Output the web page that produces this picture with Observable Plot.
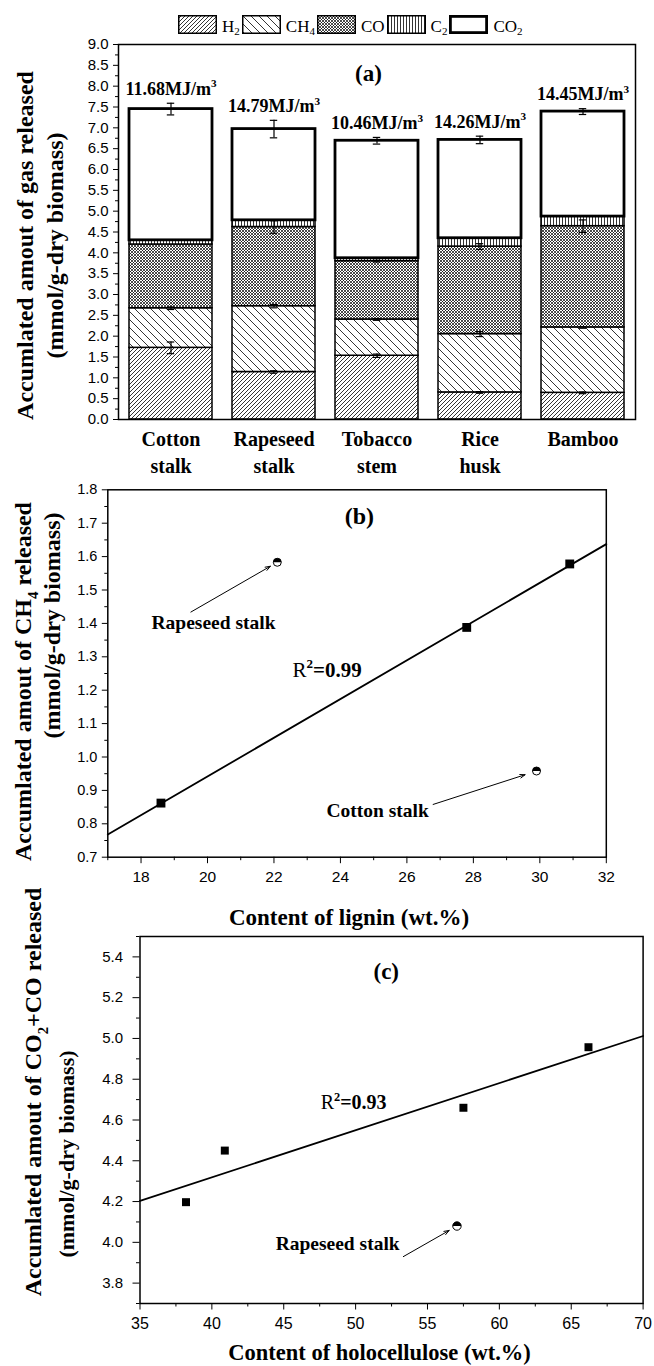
<!DOCTYPE html>
<html><head><meta charset="utf-8">
<script src="https://cdn.jsdelivr.net/npm/d3@7"></script>
<script src="https://cdn.jsdelivr.net/npm/@observablehq/plot@0.6"></script>
<style>
html,body{margin:0;padding:0;background:#fff;}
#page{position:relative;width:654px;height:1366px;overflow:hidden;background:#fff;}
.panel{position:absolute;left:0;}
.panel svg{overflow:visible;}
#legend{position:absolute;top:15px;left:178px;display:flex;align-items:flex-start;font-family:'Liberation Serif','Times New Roman',serif;font-size:17px;line-height:19px;color:#000;}
#legend .item{display:flex;align-items:flex-start;margin-right:2px;}
#legend .item span{padding-left:5px;padding-top:2px;white-space:nowrap;}
#legend sub{font-size:0.65em;vertical-align:-0.3em;line-height:0;}
</style></head>
<body>
<svg width="0" height="0" style="position:absolute">
  <defs>
    <pattern id="pat-H2" patternUnits="userSpaceOnUse" width="4" height="4">
      <rect width="4" height="4" fill="#fff"/>
      <path d="M-1,1 L1,-1 M0,4 L4,0 M3,5 L5,3" stroke="#000" stroke-width="0.8"/>
    </pattern>
    <pattern id="pat-CH4" patternUnits="userSpaceOnUse" width="8" height="8">
      <rect width="8" height="8" fill="#fff"/>
      <path d="M-1,7 L1,9 M0,0 L8,8 M7,-1 L9,1" stroke="#000" stroke-width="0.8"/>
    </pattern>
    <pattern id="pat-CO" patternUnits="userSpaceOnUse" width="3" height="3">
      <rect width="3" height="3" fill="#fff"/>
      <path d="M0,0 L3,3 M3,0 L0,3" stroke="#000" stroke-width="0.7"/>
    </pattern>
    <pattern id="pat-C2" patternUnits="userSpaceOnUse" width="3" height="3">
      <rect width="3" height="3" fill="#fff"/>
      <path d="M1.5,0 L1.5,3" stroke="#000" stroke-width="0.8"/>
    </pattern>
    <pattern id="pat-CO2" patternUnits="userSpaceOnUse" width="4" height="4">
      <rect width="4" height="4" fill="#fff"/>
    </pattern>
  </defs>
</svg>
<div id="page">
  <div id="legend"></div>
  <div class="panel" id="pa" style="top:30px"></div>
  <div class="panel" id="pb" style="top:475px"></div>
  <div class="panel" id="pc" style="top:925px"></div>
</div>
<script>
// ---------------- DATA ----------------
// (a) stacked gas yields, mmol/g-dry biomass
const samples = ["Cotton stalk", "Rapeseed stalk", "Tobacco stem", "Rice husk", "Bamboo"];
const sampleTickLabels = ["Cotton\nstalk", "Rapeseed\nstalk", "Tobacco\nstem", "Rice\nhusk", "Bamboo"];
const gases = ["H2", "CH4", "CO", "C2", "CO2"];
const gasLegendLabels = ["H<sub>2</sub>", "CH<sub>4</sub>", "CO", "C<sub>2</sub>", "CO<sub>2</sub>"];
const h2  = [1.72, 1.14, 1.53, 0.65, 0.64];
const ch4 = [0.95, 1.58, 0.87, 1.40, 1.57];
const co  = [1.53, 1.90, 1.40, 2.10, 2.43];
const c2  = [0.10, 0.16, 0.07, 0.20, 0.23];
const co2 = [3.15, 2.19, 2.82, 2.36, 2.52];
const heatingValue = [11.68, 14.79, 10.46, 14.26, 14.45]; // MJ/m3
const errH2    = [0.14, 0.03, 0.04, 0.02, 0.02];
const errCH4   = [0.03, 0.04, 0.02, 0.06, 0.02];
const errCO    = [0.00, 0.15, 0.02, 0.07, 0.15];
const errTotal = [0.14, 0.21, 0.08, 0.09, 0.07];
const yTicksA = [0, 0.5, 1, 1.5, 2, 2.5, 3, 3.5, 4, 4.5, 5, 5.5, 6, 6.5, 7, 7.5, 8, 8.5, 9];
const yMinorA = [0.25, 0.75, 1.25, 1.75, 2.25, 2.75, 3.25, 3.75, 4.25, 4.75, 5.25, 5.75, 6.25, 6.75, 7.25, 7.75, 8.25, 8.75];

// (b) CH4 vs lignin
const ligninContent = [18.6, 27.8, 30.9];
const ch4Released   = [0.862, 1.388, 1.578];
const ligninOutlierNames = ["Rapeseed stalk", "Cotton stalk"];
const ligninOutlierContent = [22.1, 29.9];
const ch4OutlierReleased   = [1.583, 0.958];
const r2Lignin = "0.99";
const xDomainB = [17, 32];
const yDomainB = [0.7, 1.8];
const xTicksB = [18, 20, 22, 24, 26, 28, 30, 32];
const xMinorB = [17, 19, 21, 23, 25, 27, 29, 31];
const yTicksB = [0.7, 0.8, 0.9, 1.0, 1.1, 1.2, 1.3, 1.4, 1.5, 1.6, 1.7, 1.8];
const yMinorB = [0.75, 0.85, 0.95, 1.05, 1.15, 1.25, 1.35, 1.45, 1.55, 1.65, 1.75];

// (c) CO2+CO vs holocellulose
const holoContent  = [38.2, 40.9, 57.5, 66.2];
const coxReleased  = [4.197, 4.45, 4.66, 4.957];
const holoOutlierNames = ["Rapeseed stalk"];
const holoOutlierContent = [57.05];
const coxOutlierReleased = [4.08];
const r2Holo = "0.93";
const xDomainC = [35, 70];
const yDomainC = [3.7, 5.5];
const xTicksC = [35, 40, 45, 50, 55, 60, 65, 70];
const xMinorC = [37.5, 42.5, 47.5, 52.5, 57.5, 62.5, 67.5];
const yTicksC = [3.8, 4.0, 4.2, 4.4, 4.6, 4.8, 5.0, 5.2, 5.4];
const yMinorC = [3.7, 3.9, 4.1, 4.3, 4.5, 4.7, 4.9, 5.1, 5.3, 5.5];

// ---------------- HELPERS ----------------
const serif = "'Liberation Serif','Times New Roman',serif";
const sans = "'Liberation Sans',Arial,sans-serif";
const fmt1 = d3.format(".1f");
const fmt0 = d3.format("d");

function fit(xs, ys) {
  const mx = d3.mean(xs), my = d3.mean(ys);
  const b = d3.sum(xs, (x, i) => (x - mx) * (ys[i] - my)) / d3.sum(xs, x => (x - mx) ** 2);
  return x => my + b * (x - mx);
}
const halfTop = {draw(ctx, size) {
  const r = Math.sqrt(size / Math.PI);
  ctx.moveTo(-r, 0); ctx.arc(0, 0, r, Math.PI, 2 * Math.PI); ctx.closePath();
}};
const titleStyle = (fs) => ({fontSize: fs, fontWeight: "bold", fontFamily: serif, lineAnchor: "middle", textAnchor: "middle", frameAnchor: "left", rotate: -90});
const annStyle = (fs) => ({fontSize: fs, fontWeight: "bold", fontFamily: serif, textAnchor: "middle", lineAnchor: "middle"});

// ---------------- PANEL A ----------------
const gasValues = {H2: h2, CH4: ch4, CO: co, C2: c2, CO2: co2};
const rowsA = gases.flatMap(g => samples.map((s, i) => ({sample: s, gas: g, value: gasValues[g][i]})));
const cum = samples.map((s, i) => Array.from(d3.cumsum(gases.map(g => gasValues[g][i]))));
const errRows = [];
[[errH2, 0], [errCH4, 1], [errCO, 2], [errTotal, 4]].forEach(([arr, k]) =>
  samples.forEach((s, i) => { if (arr[i] > 0) errRows.push({sample: s, y: cum[i][k], err: arr[i]}); }));

const wA = 654, mlA = 118, mrA = 19, pIn = 0.19, pOut = 0.1;
const stepA = (wA - mlA - mrA) / (samples.length - pIn + 2 * pOut);
const capInset = (stepA * (1 - pIn) - 8) / 2;

const chartA = Plot.plot({
  width: wA, height: 445,
  marginTop: 14, marginBottom: 56, marginLeft: mlA, marginRight: mrA,
  x: {domain: samples, paddingInner: pIn, paddingOuter: pOut},
  y: {domain: [0, 9]},
  color: {type: "identity"},
  marks: [
    Plot.barY(rowsA, {x: "sample", y: "value", fill: d => `url(#pat-${d.gas})`, stroke: "black",
      strokeWidth: d => d.gas === "CO2" ? 2.8 : 1.5}),
    Plot.ruleX(errRows, {x: "sample", y1: d => d.y - d.err, y2: d => d.y + d.err, stroke: "black", strokeWidth: 1.2}),
    Plot.tickY(errRows, {x: "sample", y: d => d.y - d.err, insetLeft: capInset, insetRight: capInset, stroke: "black", strokeWidth: 1.2}),
    Plot.tickY(errRows, {x: "sample", y: d => d.y + d.err, insetLeft: capInset, insetRight: capInset, stroke: "black", strokeWidth: 1.2}),
    Plot.text(samples, {x: d => d, y: (d, i) => cum[i][4] + errTotal[i], text: (d, i) => `${heatingValue[i].toFixed(2)}MJ/m^{3}`,
      dy: -14, ...annStyle(18)}),
    Plot.text(["(a)"], {text: d => d, frameAnchor: "top", dx: -8.5, dy: 29, ...annStyle(23)}),
    Plot.axisY(yTicksA, {tickSize: 5, tickPadding: 5, tickFormat: fmt1, fontSize: 15, fontFamily: sans, label: null}),
    Plot.axisY(yMinorA, {tickSize: 3, tickFormat: () => "", label: null}),
    Plot.axisX(samples, {tickSize: 0, tickPadding: 7, tickFormat: d => sampleTickLabels[samples.indexOf(d)],
      fontSize: 20, fontWeight: "bold", fontFamily: serif, lineHeight: 1.35, label: null}),
    Plot.text(["Accumlated amout of gas released"], {text: d => d, dx: -93, dy: 13.5, ...titleStyle(24)}),
    Plot.text(["(mmol/g-dry biomass)"], {text: d => d, dx: -63, dy: 13.5, ...titleStyle(24)}),
    Plot.frame({stroke: "black", strokeWidth: 1.5})
  ]
});

// ---------------- PANEL B ----------------
const fitB = fit(ligninContent, ch4Released);
const chartB = Plot.plot({
  width: 654, height: 460,
  marginTop: 14.3, marginBottom: 78.3, marginLeft: 107.3, marginRight: 48.2,
  x: {domain: xDomainB},
  y: {domain: yDomainB},
  marks: [
    Plot.line(xDomainB, {x: d => d, y: d => fitB(d), stroke: "black", strokeWidth: 1.8}),
    Plot.dot(ligninContent, {x: d => d, y: (d, i) => ch4Released[i], symbol: "square", r: 5, fill: "black"}),
    Plot.dot(ligninOutlierContent, {x: d => d, y: (d, i) => ch4OutlierReleased[i], r: 4, fill: "white", stroke: "black", strokeWidth: 1}),
    Plot.dot(ligninOutlierContent, {x: d => d, y: (d, i) => ch4OutlierReleased[i], r: 4, symbol: halfTop, fill: "black"}),
    Plot.arrow([0], {x1: 19.5, y1: 1.434, x2: ligninOutlierContent[0], y2: ch4OutlierReleased[0], insetEnd: 8, headLength: 8, headAngle: 40, stroke: "black", strokeWidth: 1}),
    Plot.arrow([0], {x1: 26.79, y1: 0.858, x2: ligninOutlierContent[1], y2: ch4OutlierReleased[1], insetEnd: 12, headLength: 8, headAngle: 40, stroke: "black", strokeWidth: 1}),
    Plot.text([ligninOutlierNames[0]], {text: d => d, x: 20.18, y: 1.403, ...annStyle(19.5)}),
    Plot.text([ligninOutlierNames[1]], {text: d => d, x: 25.12, y: 0.84, ...annStyle(19.5)}),
    Plot.text([`~{R}^{2}=${r2Lignin}`], {text: d => d, x: 23.6, y: 1.259, ...annStyle(21)}),
    Plot.text(["(b)"], {text: d => d, x: 24.57, y: 1.72, ...annStyle(24)}),
    Plot.axisX(xTicksB, {tickSize: 6.5, tickPadding: 7, tickFormat: fmt0, fontSize: 15.5, fontFamily: sans, label: null}),
    Plot.axisX(xMinorB, {tickSize: 3.5, tickFormat: () => "", label: null}),
    Plot.axisY(yTicksB, {tickSize: 5.5, tickPadding: 5, tickFormat: fmt1, fontSize: 14.5, fontFamily: sans, label: null}),
    Plot.axisY(yMinorB, {tickSize: 3, tickFormat: () => "", label: null}),
    Plot.text(["Content of lignin (wt.%)"], {text: d => d, frameAnchor: "bottom", dx: -8, dy: 60, ...annStyle(23)}),
    Plot.text(["Accumlated amout of CH_{4} released"], {text: d => d, dx: -84.3, dy: 8, ...titleStyle(24)}),
    Plot.text(["(mmol/g-dry biomass)"], {text: d => d, dx: -55.3, dy: -48, ...titleStyle(24)}),
    Plot.frame({stroke: "black", strokeWidth: 1.5})
  ]
});

// ---------------- PANEL C ----------------
const fitC = fit(holoContent, coxReleased);
const chartC = Plot.plot({
  width: 654, height: 441,
  marginTop: 11, marginBottom: 63, marginLeft: 139.5, marginRight: 11.4,
  x: {domain: xDomainC},
  y: {domain: yDomainC},
  marks: [
    Plot.line(xDomainC, {x: d => d, y: d => fitC(d), stroke: "black", strokeWidth: 1.8}),
    Plot.dot(holoContent, {x: d => d, y: (d, i) => coxReleased[i], symbol: "square", r: 4.5, fill: "black"}),
    Plot.dot(holoOutlierContent, {x: d => d, y: (d, i) => coxOutlierReleased[i], r: 4.2, fill: "white", stroke: "black", strokeWidth: 1}),
    Plot.dot(holoOutlierContent, {x: d => d, y: (d, i) => coxOutlierReleased[i], r: 4.2, symbol: halfTop, fill: "black"}),
    Plot.arrow([0], {x1: 53.32, y1: 3.93, x2: holoOutlierContent[0], y2: coxOutlierReleased[0], insetEnd: 9, headLength: 8, headAngle: 40, stroke: "black", strokeWidth: 1}),
    Plot.text([holoOutlierNames[0]], {text: d => d, x: 48.75, y: 3.994, ...annStyle(19.5)}),
    Plot.text([`~{R}^{2}=${r2Holo}`], {text: d => d, x: 49.86, y: 4.685, ...annStyle(20)}),
    Plot.text(["(c)"], {text: d => d, x: 52.13, y: 5.33, ...annStyle(23)}),
    Plot.axisX(xTicksC, {tickSize: 6.5, tickPadding: 8, tickFormat: fmt0, fontSize: 16, fontFamily: sans, label: null}),
    Plot.axisX(xMinorC, {tickSize: 3.5, tickFormat: () => "", label: null}),
    Plot.axisY(yTicksC, {tickSize: 7, tickPadding: 10, tickFormat: fmt1, fontSize: 15, fontFamily: sans, label: null}),
    Plot.axisY(yMinorC, {tickSize: 3.5, tickFormat: () => "", label: null}),
    Plot.text(["Content of holocellulose (wt.%)"], {text: d => d, frameAnchor: "bottom", dx: -12, dy: 49, ...annStyle(22.5)}),
    Plot.text(["Accumlated amout of CO_{2}+CO released"], {text: d => d, dx: -106.5, dy: -28, ...titleStyle(24)}),
    Plot.text(["(mmol/g-dry biomass)"], {text: d => d, dx: -73.5, dy: 34, ...titleStyle(22)}),
    Plot.frame({stroke: "black", strokeWidth: 1.5})
  ]
});

document.getElementById("pa").appendChild(chartA);
document.getElementById("pb").appendChild(chartB);
document.getElementById("pc").appendChild(chartC);

// ---------------- LEGEND ----------------
const legend = d3.select("#legend");
gases.forEach((g, i) => {
  const item = legend.append("div").attr("class", "item");
  const sw = item.append("svg").attr("width", 39).attr("height", 19);
  const sWidth = g === "CO2" ? 2.8 : 1.5;
  sw.append("rect").attr("x", sWidth / 2).attr("y", sWidth / 2)
    .attr("width", 39 - sWidth).attr("height", 19 - sWidth)
    .attr("fill", `url(#pat-${g})`).attr("stroke", "black").attr("stroke-width", sWidth);
  item.append("span").html(gasLegendLabels[i]);
});

// ---------------- RICH TEXT (sub/superscripts) ----------------
const NS = "http://www.w3.org/2000/svg";
function richify(root) {
  root.querySelectorAll("text").forEach(t => {
    const targets = t.querySelector("tspan") ? [...t.querySelectorAll("tspan")] : [t];
    for (const n of targets) {
      const s = n.textContent;
      if (!/[_^~]\{/.test(s)) continue;
      const fs = parseFloat(getComputedStyle(n).fontSize) || 16;
      while (n.firstChild) n.removeChild(n.firstChild);
      const add = (str, attrs) => {
        const ts = document.createElementNS(NS, "tspan");
        ts.textContent = str;
        for (const k in attrs) ts.setAttribute(k, attrs[k]);
        n.appendChild(ts);
      };
      const re = /([_^~])\{([^}]*)\}/g;
      let last = 0, m, pending = 0;
      while ((m = re.exec(s))) {
        if (m.index > last) { add(s.slice(last, m.index), pending ? {dy: pending} : {}); pending = 0; }
        if (m[1] === "_") { add(m[2], {dy: pending + 0.28 * fs, "font-size": 0.62 * fs}); pending = -0.28 * fs; }
        else if (m[1] === "^") { add(m[2], {dy: pending - 0.42 * fs, "font-size": 0.62 * fs}); pending = 0.42 * fs; }
        else { const a = {"font-weight": "normal"}; if (pending) a.dy = pending; add(m[2], a); pending = 0; }
        last = re.lastIndex;
      }
      if (last < s.length) add(s.slice(last), pending ? {dy: pending} : {});
    }
  });
}
richify(document.getElementById("page"));
</script>
</body></html>
